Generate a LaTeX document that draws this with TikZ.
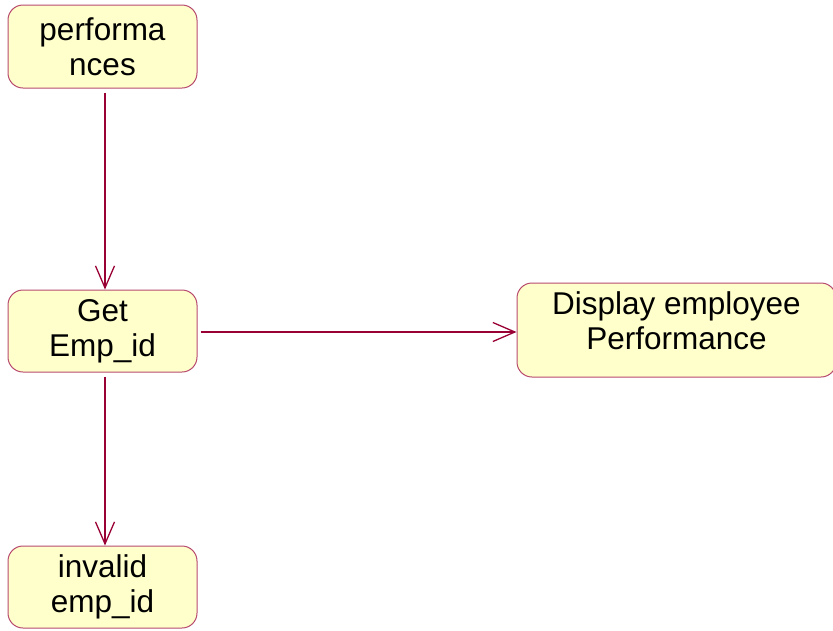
\documentclass[tikz,border=0pt]{standalone}
\usepackage{fontspec}
\setmainfont{Liberation Sans}
\usetikzlibrary{arrows.meta}
\definecolor{boxline}{HTML}{B84A6E}
\definecolor{boxfill}{HTML}{FFFFCC}
\definecolor{arrowcol}{HTML}{990033}
\tikzset{
  state/.style={draw=boxline, fill=boxfill, line width=1pt, rounded corners=15pt,
    align=center, inner sep=0pt, font=\fontsize{31.5}{35}\selectfont},
  flow/.style={draw=arrowcol, line width=1.3pt, -{Straight Barb[length=22pt,width=19pt,line width=1.3pt]}}
}
\begin{document}
\begin{tikzpicture}[x=1pt,y=-1pt]
\useasboundingbox (0,0) rectangle (833,630);
\node[state, minimum width=189pt, minimum height=83pt] (perf) at (102.5,46.5) {performa\\nces};
\node[state, minimum width=189pt, minimum height=82pt] (get) at (102.5,331) {Get\\Emp\_id};
\node[state, minimum width=189pt, minimum height=82pt] (inv) at (102.5,587) {invalid\\emp\_id};
\node[state, minimum width=319pt, minimum height=94pt, text depth=19pt] (disp) at (676.5,330) {Display employee\\Performance};
\draw[flow] ([xshift=2.5pt,yshift=-4pt]perf.south) -- ([xshift=2.5pt]get.north);
\draw[flow] ([xshift=3pt,yshift=-1pt]get.east) -- ([yshift=-2pt]disp.west);
\draw[flow] ([xshift=2.5pt,yshift=-4pt]get.south) -- ([xshift=2.5pt]inv.north);
\end{tikzpicture}
\end{document}
